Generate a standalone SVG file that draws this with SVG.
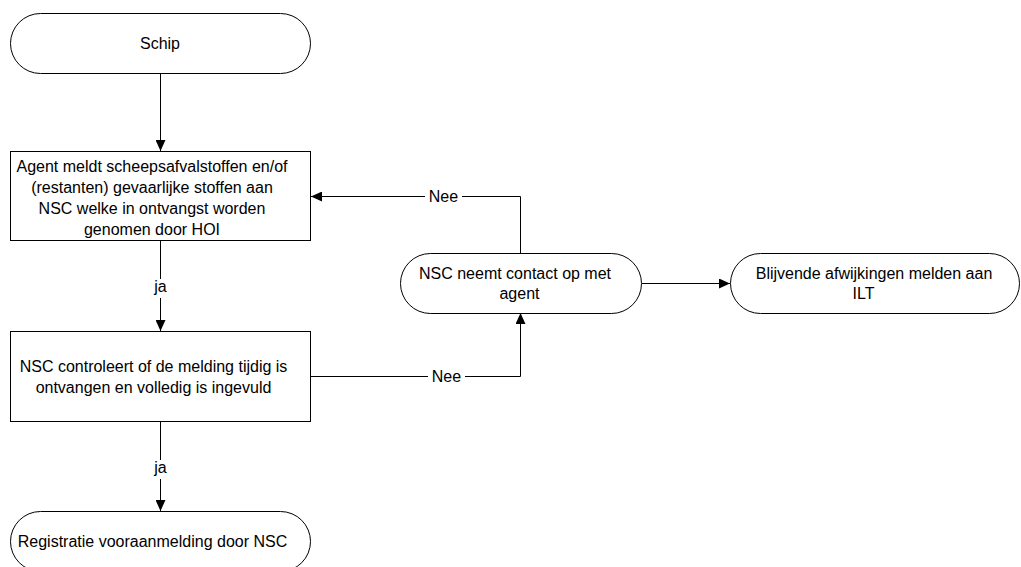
<svg xmlns="http://www.w3.org/2000/svg" width="1021" height="567" viewBox="0 0 1021 567">
  <style>
    .shape { fill: #ffffff; stroke: #000000; stroke-width: 1; }
    .edge { fill: none; stroke: #000000; stroke-width: 1; }
    text { font-family: "Liberation Sans", Arial, sans-serif; font-size: 16px; fill: #000000; text-anchor: middle; }
    .lblbg { fill: #ffffff; stroke: none; }
  </style>
  <defs>
    <marker id="arrow" markerWidth="11" markerHeight="10" refX="11" refY="5" orient="auto" markerUnits="userSpaceOnUse">
      <path d="M0,0 L11,5 L0,10 Z" fill="#000000"/>
    </marker>
  </defs>

  <rect width="1021" height="567" fill="#ffffff"/>

  <!-- connectors -->
  <g id="connectors">
    <path class="edge" d="M160.5,73.5 L160.5,151" marker-end="url(#arrow)"/>
    <path class="edge" d="M160.5,240.5 L160.5,331" marker-end="url(#arrow)"/>
    <path class="edge" d="M160.5,421.5 L160.5,511" marker-end="url(#arrow)"/>
    <path class="edge" d="M520.5,253.5 L520.5,196.5 L311,196.5" marker-end="url(#arrow)"/>
    <path class="edge" d="M310.5,376.5 L520.5,376.5 L520.5,313" marker-end="url(#arrow)"/>
    <path class="edge" d="M642,283.5 L730,283.5" marker-end="url(#arrow)"/>

    <rect class="lblbg" x="151" y="279" width="20" height="19"/>
    <text x="160.5" y="292">ja</text>
    <rect class="lblbg" x="151" y="460" width="20" height="19"/>
    <text x="160.5" y="473">ja</text>
    <rect class="lblbg" x="425" y="188" width="37" height="17"/>
    <text x="443.5" y="201.5">Nee</text>
    <rect class="lblbg" x="428" y="368" width="37" height="17"/>
    <text x="446.5" y="381.5">Nee</text>
  </g>

  <g id="node-schip">
    <rect class="shape" x="10.5" y="13.5" width="300" height="60" rx="30" ry="30"/>
    <text x="160" y="48.5">Schip</text>
  </g>

  <g id="node-agent">
    <rect class="shape" x="10.5" y="151.5" width="300" height="89"/>
    <text x="152" y="171.5">Agent meldt scheepsafvalstoffen en/of</text>
    <text x="152" y="192.8">(restanten) gevaarlijke stoffen aan</text>
    <text x="152" y="214">NSC welke in ontvangst worden</text>
    <text x="152" y="235.3">genomen door HOI</text>
  </g>

  <g id="node-controle">
    <rect class="shape" x="10.5" y="331.5" width="300" height="90"/>
    <text x="153.5" y="372">NSC controleert of de melding tijdig is</text>
    <text x="153.5" y="393">ontvangen en volledig is ingevuld</text>
  </g>

  <g id="node-registratie">
    <rect class="shape" x="10.5" y="511.5" width="300" height="60" rx="30" ry="30"/>
    <text x="152.5" y="547">Registratie vooraanmelding door NSC</text>
  </g>

  <g id="node-contact">
    <rect class="shape" x="400.5" y="253.5" width="241" height="60" rx="30" ry="30"/>
    <text x="515" y="278.5">NSC neemt contact op met</text>
    <text x="519.5" y="299">agent</text>
  </g>

  <g id="node-ilt">
    <rect class="shape" x="730.5" y="253.5" width="289" height="60" rx="30" ry="30"/>
    <text x="874" y="278.5">Blijvende afwijkingen melden aan</text>
    <text x="863.5" y="299">ILT</text>
  </g>
</svg>
